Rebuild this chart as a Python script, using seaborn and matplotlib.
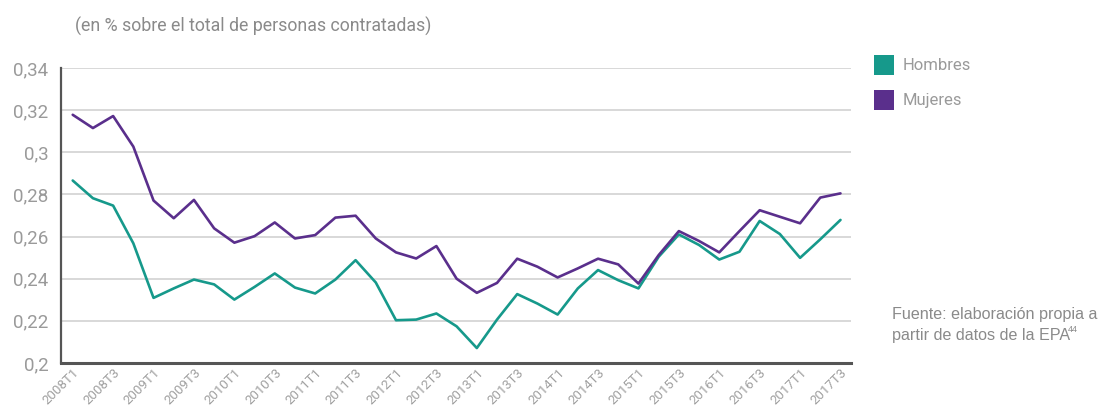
import numpy as np
import pandas as pd
import matplotlib
matplotlib.use("Agg")
import matplotlib.pyplot as plt
import seaborn as sns
from matplotlib.patches import Rectangle

quarters = [f"{y}T{q}" for y in range(2008, 2018) for q in range(1, 5)][:39]

hombres = [0.2866, 0.2782, 0.2747, 0.2568, 0.2309, 0.2354, 0.2396, 0.2373, 0.2301, 0.2361,
           0.2425, 0.2358, 0.2330, 0.2396, 0.2488, 0.2382, 0.2203, 0.2206, 0.2235, 0.2174,
           0.2071, 0.2206, 0.2327, 0.2282, 0.2230, 0.2354, 0.2441, 0.2393, 0.2354, 0.2504,
           0.2610, 0.2560, 0.2491, 0.2528, 0.2674, 0.2612, 0.2499, 0.2587, 0.2679]
mujeres = [0.3178, 0.3115, 0.3172, 0.3027, 0.2771, 0.2687, 0.2774, 0.2639, 0.2571, 0.2602,
           0.2667, 0.2591, 0.2607, 0.2690, 0.2699, 0.2591, 0.2525, 0.2496, 0.2555, 0.2400,
           0.2333, 0.2380, 0.2495, 0.2457, 0.2406, 0.2449, 0.2495, 0.2468, 0.2377, 0.2512,
           0.2626, 0.2579, 0.2525, 0.2626, 0.2725, 0.2694, 0.2663, 0.2785, 0.2805]

series_names = ["Hombres", "Mujeres"]
colors = {"Hombres": "#16998b", "Mujeres": "#5a2f8c"}
yticks = [0.2, 0.22, 0.24, 0.26, 0.28, 0.3, 0.32, 0.34]
ytick_labels = ["0,2", "0,22", "0,24", "0,26", "0,28", "0,3", "0,32", "0,34"]

df = pd.DataFrame({
    "idx": list(range(len(quarters))) * 2,
    "valor": hombres + mujeres,
    "Sexo": ["Hombres"] * len(quarters) + ["Mujeres"] * len(quarters),
})

sns.set_theme(style="white")
plt.rcParams['font.family'] = ['Roboto', 'DejaVu Sans']

fig = plt.figure(figsize=(11.06, 4.15), dpi=100)
ax = fig.add_axes([61/1106, 1 - 363/415, (851 - 61)/1106, (363 - 68)/415])

for y in yticks[1:]:
    ax.axhline(y, color="#d6d6d6", lw=1.3, zorder=0)

sns.lineplot(data=df, x="idx", y="valor", hue="Sexo", palette=colors, lw=1.9,
             legend=False, ax=ax, zorder=3)

ax.set_xlim(-0.58, 38.52)
ax.set_ylim(0.2, 0.34)
ax.set_yticks(yticks)
ax.set_yticklabels(ytick_labels, fontsize=13.5, color="#9a9a9a")
ax.set_xticks(range(0, len(quarters), 2))
ax.set_xticklabels(quarters[::2], rotation=45, ha="right", rotation_mode="anchor",
                   fontsize=9.5, color="#a0a0a0")
ax.tick_params(axis="y", length=0, pad=9)
ax.tick_params(axis="x", length=0, pad=2)
ax.set_xlabel("")
ax.set_ylabel("")
for s in ["top", "right"]:
    ax.spines[s].set_visible(False)
ax.spines["left"].set_color("#555555")
ax.spines["left"].set_linewidth(1.6)
ax.spines["bottom"].set_color("#555555")
ax.spines["bottom"].set_linewidth(2.2)

fig.text(75/1106, 1 - 26/415, "(en % sobre el total de personas contratadas)",
         fontsize=12.8, color="#8a8a8a", va="center", ha="left")

# legend
for i, name in enumerate(series_names):
    ycen = 65 + i * 35
    fig.patches.append(Rectangle((874/1106, 1 - (ycen + 10)/415), 20/1106, 20/415,
                                 transform=fig.transFigure, facecolor=colors[name],
                                 edgecolor="none"))
    fig.text(903/1106, 1 - ycen/415, name, fontsize=12, color="#9a9a9a",
             va="center", ha="left")

fig.text(892/1106, 1 - 314/415, "Fuente: elaboración propia a", fontsize=11.6,
         color="#8a8a8a", va="center", ha="left", family=["Liberation Sans", "DejaVu Sans"])
fig.text(892/1106, 1 - 335/415, "partir de datos de la EPA", fontsize=11.6,
         color="#8a8a8a", va="center", ha="left", family=["Liberation Sans", "DejaVu Sans"])
fig.text(1068/1106, 1 - 329/415, "44", fontsize=6.5,
         color="#8a8a8a", va="center", ha="left", family=["Liberation Sans", "DejaVu Sans"])

fig.savefig("out.png", dpi=100)
